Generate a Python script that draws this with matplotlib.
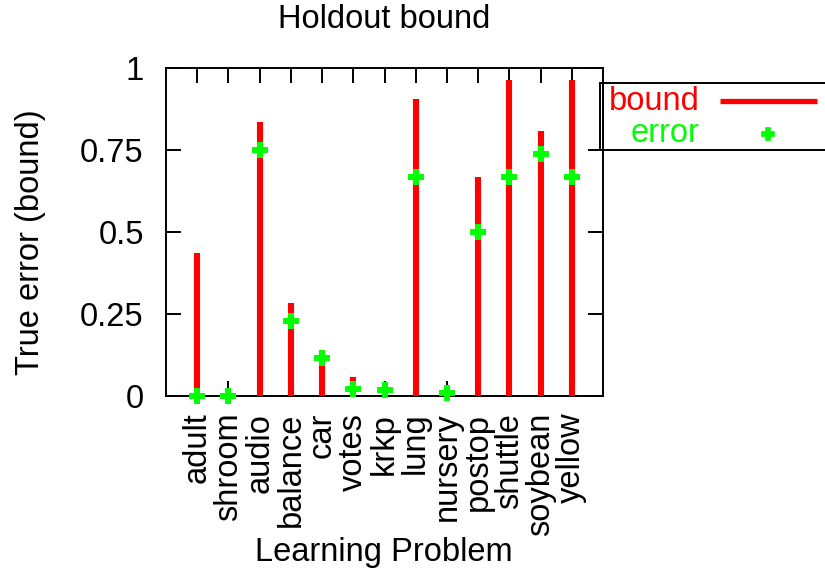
import matplotlib
matplotlib.use('Agg')
import matplotlib.pyplot as plt
from matplotlib.patches import Rectangle
from matplotlib.lines import Line2D

plt.rcParams['font.family'] = ['Liberation Sans', 'DejaVu Sans']

# Holdout bound per learning problem, with the observed true error
problems = ['adult', 'shroom', 'audio', 'balance', 'car', 'votes', 'krkp',
            'lung', 'nursery', 'postop', 'shuttle', 'soybean', 'yellow']
bound = [0.436, 0.0, 0.836, 0.284, 0.140, 0.057, 0.02,
         0.905, 0.0, 0.669, 0.963, 0.809, 0.963]
error = [0.0, 0.0, 0.75, 0.23, 0.117, 0.021, 0.018,
         0.667, 0.008, 0.5, 0.667, 0.737, 0.667]
ytick_vals = [0, 0.25, 0.5, 0.75, 1]
ytick_text = ['0', '0.25', '0.5', '0.75', '1']

W, H = 825, 574
FS = 23.5
RED = '#ff0000'
GREEN = '#00ff00'

fig = plt.figure(figsize=(W / 100, H / 100), dpi=100)
ax = fig.add_axes([166 / W, 1 - 396 / H, (603 - 166) / W, (396 - 68) / H])

x = list(range(len(problems)))
bars = ax.vlines(x, 0, bound, color=RED, linewidth=4.4, zorder=3)
bars.set_capstyle('butt')
ax.plot(x, error, linestyle='none', marker='P', markersize=10,
        color=GREEN, markeredgecolor=GREEN, markeredgewidth=1.4,
        zorder=4, clip_on=False)

ax.set_xlim(-1, len(problems))
ax.set_ylim(0, 1)
ax.set_xticks(x)
ax.set_xticklabels(problems, rotation=90, fontsize=FS, ha='center', va='top')
ax.set_yticks(ytick_vals)
ax.set_yticklabels(ytick_text, fontsize=FS)
ax.tick_params(direction='in', length=10.8, width=1.4, top=True, right=True)
ax.tick_params(axis='x', pad=12)
ax.tick_params(axis='y', pad=16)
for sp in ax.spines.values():
    sp.set_linewidth(1.4)

fig.text(384 / W, 1 - 20 / H, 'Holdout bound', fontsize=FS, ha='center', va='center')
fig.text(31 / W, 1 - 242 / H, 'True error (bound)', fontsize=FS,
         rotation=90, ha='center', va='center')
fig.text(384 / W, 1 - 552 / H, 'Learning Problem', fontsize=FS, ha='center', va='center')

# key box, running off the right edge
fig.add_artist(Rectangle((600 / W, 1 - 150 / H), 300 / W, 67 / H,
                         transform=fig.transFigure, fill=False, linewidth=1.4,
                         edgecolor='black'))
fig.text(700 / W, 1 - 101 / H, 'bound', fontsize=FS, color=RED, ha='right', va='center')
fig.text(700 / W, 1 - 134 / H, 'error', fontsize=FS, color=GREEN, ha='right', va='center')
fig.add_artist(Line2D([720 / W, 817 / W], [1 - 101 / H, 1 - 101 / H],
                      transform=fig.transFigure, color=RED, linewidth=3.8,
                      solid_capstyle='butt'))
fig.add_artist(Line2D([768 / W], [1 - 134 / H], transform=fig.transFigure,
                      marker='P', markersize=8.5, color=GREEN,
                      markeredgecolor=GREEN, markeredgewidth=1.2,
                      linestyle='none'))

fig.savefig('out.png', dpi=100)
